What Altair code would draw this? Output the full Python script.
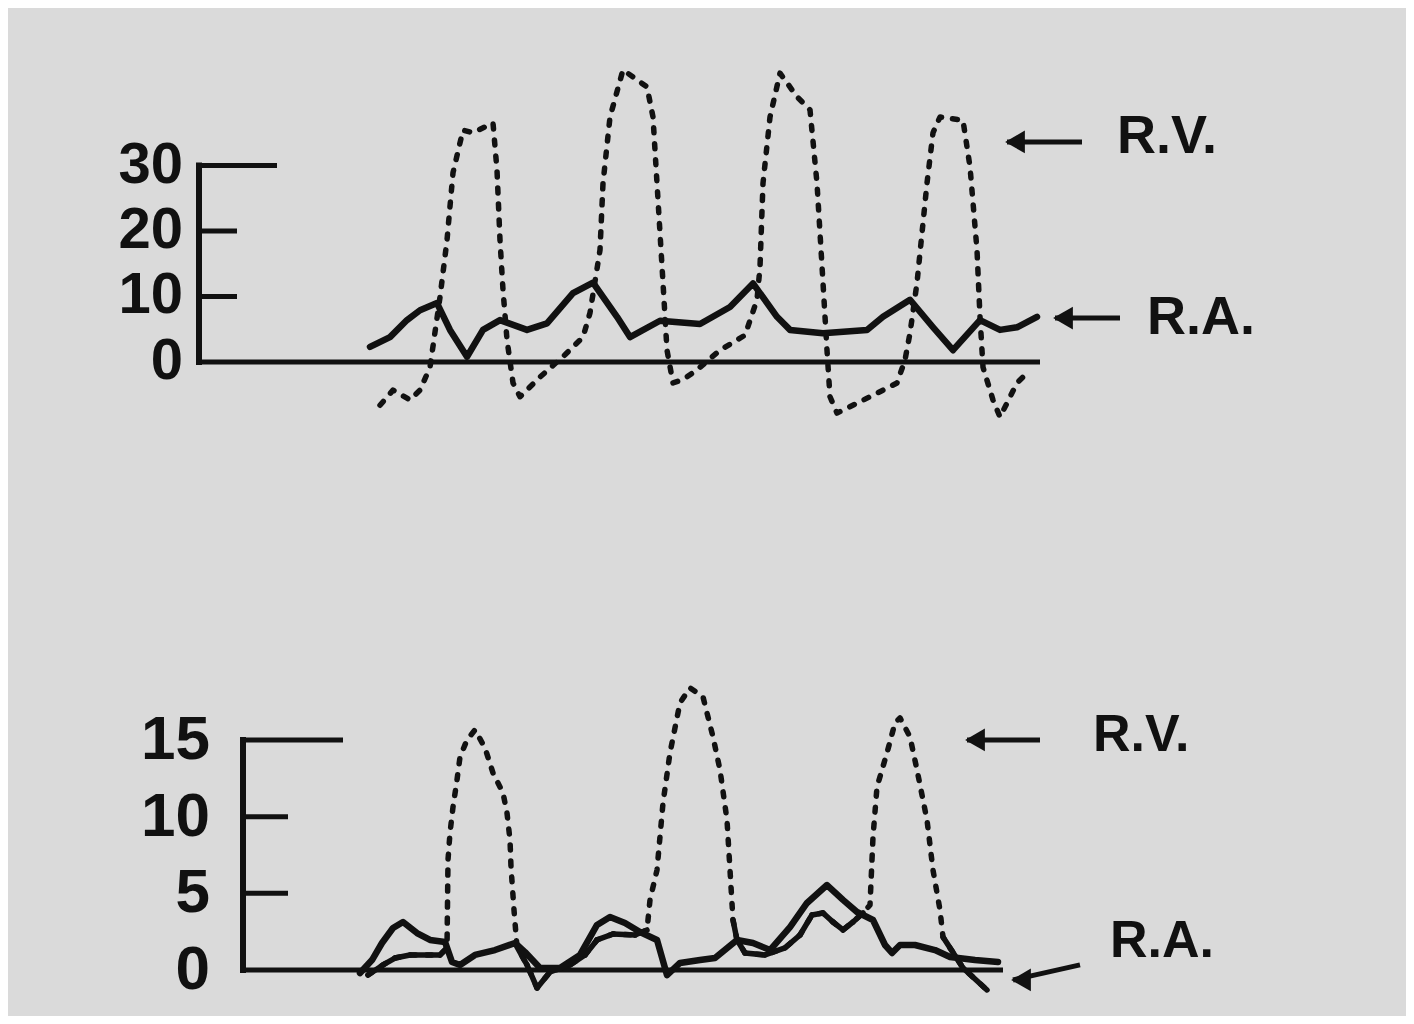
import altair as alt
import pandas as pd

# ---------------- data ----------------
# Top panel (pressure scale 0-30), time in arbitrary units from the axis
top_ra_t = [17.1, 19.1, 20.8, 22.1, 23.8, 25.1, 26.8, 28.4, 30.1, 32.8, 34.8, 37.4, 39.4,
            41.8, 43.1, 46.1, 50.1, 53.1, 55.4, 57.8, 59.1, 62.4, 66.8, 68.4, 71.1, 73.4,
            75.4, 78.1, 80.1, 81.8, 83.8]
top_ra_v = [2.3, 3.8, 6.4, 7.9, 9.0, 4.9, 0.8, 4.9, 6.4, 4.9, 5.9, 10.5, 12.1,
            6.9, 3.8, 6.3, 5.8, 8.4, 12.0, 6.9, 4.9, 4.4, 4.9, 6.9, 9.5, 5.3,
            1.8, 6.4, 4.9, 5.3, 6.9]

top_rv_t = [18.1, 19.4, 21.1, 22.1, 23.1, 24.1, 24.8, 25.4, 26.4, 27.4, 29.4, 29.8, 30.1,
            30.4, 30.8, 31.4, 32.1, 34.1, 36.6, 38.4, 39.1, 40.1, 40.4, 41.1, 42.4, 44.8,
            45.4, 45.8, 46.4, 46.8, 47.4, 48.4, 49.8, 52.1, 54.6, 55.8, 56.1, 56.4, 57.1,
            58.1, 59.8, 61.1, 61.8, 62.4, 62.8, 63.1, 63.8, 65.8, 68.4, 69.8, 70.6, 71.1,
            71.8, 72.8, 73.4, 74.1, 76.4, 77.1, 77.8, 78.1, 78.4, 79.4, 80.1, 81.8, 82.6]
top_rv_v = [-6.6, -4.3, -5.8, -4.3, -0.8, 9.9, 18.6, 28.9, 35.4, 35.0, 36.5, 29.3, 18.6,
            11.0, 3.4, -3.2, -5.3, -2.3, 1.1, 3.8, 7.5, 17.1, 27.3, 37.4, 44.6, 42.0,
            37.4, 27.3, 12.1, 1.8, -3.2, -2.7, -1.2, 1.8, 4.1, 9.5, 14.5, 27.3, 37.4,
            44.1, 40.5, 38.5, 27.3, 12.1, 1.8, -5.3, -7.8, -6.3, -4.3, -3.2, 0.3, 4.4,
            12.1, 27.3, 35.0, 37.4, 36.9, 29.8, 17.1, 6.9, -0.8, -5.8, -8.4, -3.2, -2.0]

# Bottom panel (pressure scale 0-15)
bot_ra_t = [11.7, 12.9, 13.9, 15.0, 16.0, 17.4, 18.7, 20.2, 20.9, 21.7, 23.2, 25.2, 27.2,
            28.2, 29.7, 31.7, 33.7, 35.4, 36.7, 38.2, 39.7, 41.4, 42.4, 43.7, 45.7, 47.2,
            49.4, 51.0, 52.7, 54.7, 56.4, 58.4, 60.0, 61.4, 63.0, 64.2, 64.9, 65.7, 67.2,
            69.2, 70.7, 73.2, 75.5]
bot_ra_v = [-0.2, 0.65, 1.76, 2.74, 3.13, 2.41, 1.96, 1.83, 0.52, 0.33, 0.98, 1.3, 1.76,
            1.17, 0.13, 0.13, 0.98, 2.94, 3.46, 3.07, 2.48, 1.96, -0.33, 0.46, 0.65, 0.78,
            1.96, 1.76, 1.3, 2.8, 4.37, 5.54, 4.57, 3.78, 3.26, 1.63, 1.11, 1.63, 1.63,
            1.3, 0.85, 0.65, 0.52]

bot_rv_t = [12.5, 14.0, 15.2, 16.7, 19.7, 20.4, 20.5, 20.7, 21.0, 21.4, 21.7, 22.4, 23.2,
            24.2, 25.0, 26.0, 26.4, 26.7, 26.8, 27.1, 27.4, 28.4, 29.4, 30.7, 32.7, 34.2,
            35.4, 37.0, 39.2, 40.4, 40.7, 41.4, 42.0, 42.7, 43.7, 44.7, 46.0, 47.0, 47.7,
            48.4, 48.7, 49.0, 49.4, 50.2, 52.2, 54.2, 55.7, 56.9, 58.0, 59.0, 60.0, 61.0,
            62.0, 62.7, 63.0, 63.4, 64.4, 65.2, 65.7, 66.7, 67.4, 68.4, 69.0, 69.7, 70.0,
            72.0, 74.4]
bot_rv_v = [-0.33, 0.33, 0.78, 0.98, 0.98, 1.44, 7.18, 8.94, 10.63, 12.39, 13.89, 15.0, 15.66,
            14.48, 12.85, 11.55, 10.24, 8.48, 6.72, 3.91, 1.5, 0.33, -1.17, -0.13, 0.33, 0.98,
            1.96, 2.35, 2.28, 2.61, 4.57, 6.52, 10.89, 14.16, 17.42, 18.4, 17.81, 15.2, 13.05,
            9.78, 6.52, 3.26, 1.96, 1.11, 0.98, 1.44, 2.28, 3.59, 3.72, 3.13, 2.61, 3.13,
            3.72, 4.24, 8.68, 11.94, 14.16, 16.11, 16.44, 15.2, 13.05, 9.78, 6.52, 3.91, 2.15,
            0.13, -1.3]

# Axis ticks (value, end of tick line in time units)
top_ticks = [0, 10, 20, 30]
top_tick_end = [84.1, 3.8, 3.8, 7.8]
top_tick_labels = ["0", "10", "20", "30"]
bot_ticks = [0, 5, 10, 15]
bot_tick_end = [76.0, 4.5, 4.5, 10.0]
bot_tick_labels = ["0", "5", "10", "15"]

# Trace labels: text, text position, arrow tip, arrow tail
top_names = ["R.V.", "R.A."]
top_name_t = [91.8, 94.8]
top_name_v = [34.4, 6.7]
top_arrow = [(80.8, 33.6, 88.3, 33.6), (85.6, 6.7, 92.1, 6.7)]
bot_names = ["R.V.", "R.A."]
bot_name_t = [85.0, 86.7]
bot_name_v = [15.3, 1.9]
bot_arrow = [(72.4, 15.0, 79.7, 15.0), (77.0, -0.65, 83.7, 0.33)]

INK = "#111111"
BG = "#dadada"
W = 1398
FONT = "Liberation Sans"


def panel(ra_t, ra_v, rv_t, rv_v, ticks, tick_end, tick_labels, names, name_t, name_v,
          arrows, xdom, ydom, height, label_t, label_size, name_size, solid_low):
    xs = alt.Scale(domain=xdom, nice=False, zero=False)
    ys = alt.Scale(domain=ydom, nice=False, zero=False)

    def X(f):
        return alt.X(f, type="quantitative", scale=xs, axis=None)

    def Y(f):
        return alt.Y(f, type="quantitative", scale=ys, axis=None)

    ra = pd.DataFrame({"t": ra_t, "v": ra_v})
    rv = pd.DataFrame({"t": rv_t, "v": rv_v})
    tk = pd.DataFrame({"v": ticks, "t0": [0] * len(ticks), "t1": tick_end,
                       "lab": tick_labels, "tl": [label_t] * len(ticks)})
    axis_df = pd.DataFrame({"t": [0], "v0": [0], "v1": [max(ticks)]})
    nm = pd.DataFrame({"name": names, "t": name_t, "v": name_v})
    ar = pd.DataFrame({"t0": [a[0] for a in arrows], "v0": [a[1] for a in arrows],
                       "t1": [a[2] for a in arrows], "v1": [a[3] for a in arrows]})

    layers = []
    layers.append(alt.Chart(axis_df).mark_rule(color=INK, strokeWidth=6, strokeCap="square").encode(
        x=X("t"), y=Y("v0"), y2="v1"))
    layers.append(alt.Chart(tk).mark_rule(color=INK, strokeWidth=5).encode(
        x=X("t0"), x2="t1", y=Y("v")))
    layers.append(alt.Chart(tk).mark_text(align="right", baseline="middle", font=FONT,
                                          fontWeight="bold", fontSize=label_size, color=INK).encode(
        x=X("tl"), y=Y("v"), text="lab"))
    layers.append(alt.Chart(rv).mark_line(color=INK, strokeWidth=5.5, strokeDash=[5, 11],
                                          strokeCap="round", strokeJoin="round").encode(
        x=X("t"), y=Y("v"), order="t"))
    if solid_low is not None:
        segs = []
        for i in range(len(rv_t) - 1):
            if rv_v[i] < solid_low and rv_v[i + 1] < solid_low:
                segs.append({"t0": rv_t[i], "v0": rv_v[i], "t1": rv_t[i + 1], "v1": rv_v[i + 1]})
        sg = pd.DataFrame(segs)
        layers.append(alt.Chart(sg).mark_rule(color=INK, strokeWidth=5.5, strokeCap="round").encode(
            x=X("t0"), x2="t1", y=Y("v0"), y2="v1"))
    layers.append(alt.Chart(ra).mark_line(color=INK, strokeWidth=6.5, strokeCap="round",
                                          strokeJoin="round").encode(
        x=X("t"), y=Y("v"), order="t"))
    layers.append(alt.Chart(ar).mark_rule(color=INK, strokeWidth=5).encode(
        x=X("t0"), x2="t1", y=Y("v0"), y2="v1"))
    layers.append(alt.Chart(ar).mark_point(shape="triangle-left", filled=True, size=520,
                                           color=INK, opacity=1, xOffset=8).encode(
        x=X("t0"), y=Y("v0")))
    layers.append(alt.Chart(nm).mark_text(align="left", baseline="middle", font=FONT,
                                          fontWeight="bold", fontSize=name_size, color=INK).encode(
        x=X("t"), y=Y("v"), text="name"))
    return alt.layer(*layers).properties(width=W, height=height)


top = panel(top_ra_t, top_ra_v, top_rv_t, top_rv_v, top_ticks, top_tick_end, top_tick_labels,
            top_names, top_name_t, top_name_v, top_arrow,
            xdom=[-19.1, 120.7], ydom=[-19.24, 54.05], height=480,
            label_t=-1.6, label_size=58, name_size=54, solid_low=None)
bottom = panel(bot_ra_t, bot_ra_v, bot_rv_t, bot_rv_v, bot_ticks, bot_tick_end, bot_tick_labels,
               bot_names, bot_name_t, bot_name_v, bot_arrow,
               xdom=[-23.5, 116.3], ydom=[-3.0, 31.43], height=528,
               label_t=-3.3, label_size=62, name_size=52, solid_low=3.8)

chart = alt.vconcat(top, bottom, spacing=0).properties(
    padding=0, background=BG
).configure_view(stroke=None)

chart.save("out.html", embed_options={"renderer": "svg", "actions": False})
